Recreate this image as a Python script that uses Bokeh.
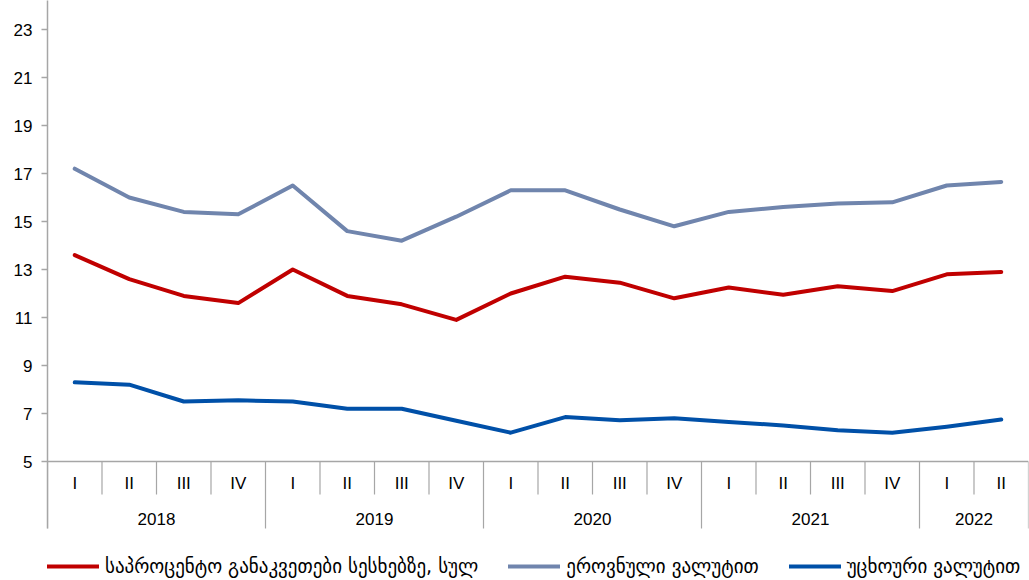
from bokeh.plotting import figure
from bokeh.models import FactorRange, Range1d, FixedTicker, Legend, LegendItem, Span, ColumnDataSource
from bokeh.embed import file_html
from bokeh.resources import INLINE
from bokeh.core.properties import value

# ---- data ----
years = ["2018", "2019", "2020", "2021", "2022"]
quarters = [["I", "II", "III", "IV"], ["I", "II", "III", "IV"], ["I", "II", "III", "IV"],
            ["I", "II", "III", "IV"], ["I", "II"]]
total_rate = [13.6, 12.6, 11.9, 11.6, 13.0, 11.9, 11.55, 10.9, 12.0, 12.7, 12.45, 11.8,
              12.25, 11.95, 12.3, 12.1, 12.8, 12.9]
national_rate = [17.2, 16.0, 15.4, 15.3, 16.5, 14.6, 14.2, 15.2, 16.3, 16.3, 15.5, 14.8,
                 15.4, 15.6, 15.75, 15.8, 16.5, 16.65]
foreign_rate = [8.3, 8.2, 7.5, 7.55, 7.5, 7.2, 7.2, 6.7, 6.2, 6.85, 6.72, 6.8,
                6.65, 6.5, 6.3, 6.2, 6.45, 6.75]
series_names = ["საპროცენტო განაკვეთები სესხებზე, სულ", "ეროვნული ვალუტით", "უცხოური ვალუტით"]
y_ticks = [5, 7, 9, 11, 13, 15, 17, 19, 21, 23]

factors = [(y, q) for y, qs in zip(years, quarters) for q in qs]

# ---- styling constants ----
RED, GREY, BLUE = "#C00000", "#7085AD", "#0050A8"
COLORS = [RED, GREY, BLUE]
AXIS = "#A6A6A6"
FONT = "Liberation Sans"
PX = 24.0  # pixels per y unit
H = 580

Y_BASE = 5.0
Y_TOP = 5 + 461 / PX
Y_BOTTOM = 5 - (H - 461) / PX
Y_AXIS_END = 5 - 67 / PX
Y_QSEP = 5 - 33 / PX
Y_QLAB = 5 - 22 / PX
Y_YLAB = 5 - 57 / PX

p = figure(width=1029, height=H,
           x_range=FactorRange(*factors, range_padding=0, group_padding=0, factor_padding=0),
           y_range=Range1d(Y_BOTTOM, Y_TOP),
           x_axis_location=None, output_backend="svg", toolbar_location=None,
           min_border_left=47, min_border_right=1, min_border_top=0, min_border_bottom=0)
p.outline_line_color = None
p.xgrid.visible = False
p.ygrid.visible = False

ax = p.yaxis[0]
ax.ticker = FixedTicker(ticks=y_ticks)
ax.bounds = (Y_AXIS_END, Y_TOP)
ax.axis_line_color = AXIS
ax.axis_line_width = 1.5
ax.major_tick_line_color = AXIS
ax.major_tick_line_width = 1.5
ax.major_tick_in = 0
ax.major_tick_out = 6
ax.minor_tick_line_color = None
ax.major_label_standoff = 9
ax.major_label_text_font = FONT
ax.major_label_text_font_size = "17px"
ax.major_label_text_color = "#000000"

# baseline
p.add_layout(Span(location=Y_BASE, dimension="width", line_color=AXIS, line_width=1.5))

# separators
sep_x, sep_y1 = [], []
for y, qs in zip(years, quarters):
    for i, q in enumerate(qs):
        sep_x.append((y, q, -0.5))
        sep_y1.append(Y_AXIS_END if i == 0 else Y_QSEP)
sep_x.append((years[-1], quarters[-1][-1], 0.5))
sep_y1.append(Y_AXIS_END)
p.segment(x0=sep_x, x1=sep_x, y0=[Y_BASE] * len(sep_x), y1=sep_y1,
          line_color=AXIS, line_width=1.2)

# category labels
p.text(x=factors, y=[Y_QLAB] * len(factors), text=[q for _, q in factors],
       text_align="center", text_baseline="middle", text_font=value(FONT),
       text_font_size="17px", text_color="#000000")
p.text(x=years, y=[Y_YLAB] * len(years), text=years,
       text_align="center", text_baseline="middle", text_font=value(FONT),
       text_font_size="17px", text_color="#000000")

# lines
src = ColumnDataSource(dict(x=factors, total=total_rate, national=national_rate, foreign=foreign_rate))
items = []
for col, c, name in zip(["total", "national", "foreign"], COLORS, series_names):
    r = p.line("x", col, source=src, line_color=c, line_width=4, line_join="round", line_cap="round")
    items.append(LegendItem(label=name, renderers=[r]))

legend = Legend(items=items, orientation="horizontal", location=(0, 3), spacing=30,
                glyph_width=52, glyph_height=20, label_standoff=6, padding=0, margin=0,
                border_line_color=None, background_fill_alpha=0,
                label_text_font="DejaVu Sans", label_text_font_size="19px",
                label_text_color="#000000")
p.add_layout(legend)

open("out.html", "w").write(file_html(p, INLINE))
